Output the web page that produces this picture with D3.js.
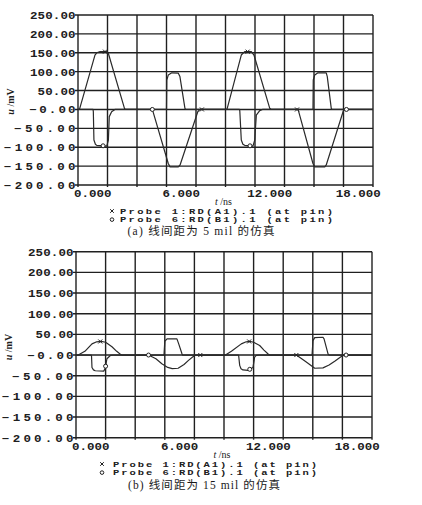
<!DOCTYPE html>
<html>
<head>
<meta charset="utf-8">
<script src="https://cdn.jsdelivr.net/npm/d3@7"></script>
<style>
  body { margin: 0; background: #fff; }
  svg { display: block; }
</style>
</head>
<body>
<div id="vis"><svg></svg></div>
<script>
// axis values
var timeDomain = [-1, 19];
var timeTicks = [0, 6, 12, 18];
var voltTicks = [250, 200, 150, 100, 50, 0, -50, -100, -150, -200];

// (a) 5 mil spacing -- [t (ns), u (mV)]
var probe1A = [[-1,0],[-0.9,0],[0.15,144],[0.27,150],[0.5,153],[0.95,153],[1.06,148],[2.15,3],[2.2,0],
  [5.0,0],[5.02,78],[5.12,91],[5.36,97],[5.8,96],[5.91,87],[6.25,3],[6.3,0],
  [9.1,0],[10.07,144],[10.3,153],[10.75,153],[10.93,144],[12.0,3],[12.1,0],
  [14.93,0],[14.95,78],[15.05,91],[15.27,97],[15.83,97],[15.9,87],[16.17,3],[16.22,0],[19,0]];
var probe6A = [[-1,0],[0.02,0],[0.04,-6],[0.08,-81],[0.18,-92],[0.27,-95],[0.95,-97],[1.06,-81],[1.12,-19],[1.28,-6],[1.5,0],
  [4.04,0],[5.12,-143],[5.24,-152],[5.8,-152],[5.92,-147],[7.12,-6],[7.27,0],
  [9.95,0],[9.97,-4],[10.07,-81],[10.18,-92],[10.3,-95],[10.86,-97],[10.98,-81],[11.09,-15],[11.32,-3],[11.5,0],
  [13.92,0],[14.93,-143],[15.05,-152],[15.73,-152],[15.83,-147],[16.97,-6],[17.08,0],[19,0]];
var marks1A = [0.83, 7.4, 10.5, 13.85];
var marks6A = [0.7, 4.04, 10.66, 17.2];

// (b) 15 mil spacing
var probe1B = [[-1,0],[-0.85,0],[-0.4,9],[0.08,27],[0.4,32],[0.7,33],[1.0,31],[1.43,20],[1.75,9],[2.0,2],[2.1,0],
  [4.93,0],[4.95,3],[5.0,33],[5.15,39],[5.82,39],[5.94,27],[6.16,3],[6.2,0],
  [9.1,0],[9.5,9],[10.17,27],[10.5,32],[10.74,33],[11.0,31],[11.41,23],[11.7,12],[12.0,2],[12.1,0],
  [14.95,0],[15.01,35],[15.13,42],[15.69,43],[15.76,39],[16.03,3],[16.1,0],[19,0]];
var probe6B = [[-1,0],[0.03,0],[0.05,-3],[0.08,-30],[0.18,-36],[0.3,-38],[0.87,-39],[0.97,-33],[1.09,-9],[1.32,-1],[1.5,0],
  [3.9,0],[4.4,-9],[4.8,-21],[5.2,-30],[5.5,-33],[5.9,-32],[6.3,-23],[6.6,-13],[6.9,-4],[7.1,0],
  [9.97,0],[9.99,-1],[10.06,-25],[10.15,-33],[10.28,-36],[10.62,-37],[10.96,-30],[11.07,-5],[11.18,-1],[11.35,0],
  [13.89,0],[14.56,-17],[15.13,-32],[15.69,-31],[16.1,-24],[16.48,-15],[16.9,-4],[17.16,0],[19,0]];
var marks1B = [0.64, 7.4, 10.7, 13.89];
var marks6B = [1.0, 3.9, 10.74, 17.25];

var legendNames = ["Probe 1:RD(A1).1 (at pin)", "Probe 6:RD(B1).1 (at pin)"];
var captions = ["(a) 线间距为 5 mil 的仿真", "(b) 线间距为 15 mil 的仿真"];

var ink = "#202020";
var monoFont = "'Liberation Mono', 'DejaVu Sans Mono', monospace";
var serifFont = "'Liberation Serif', 'DejaVu Serif', serif";
var wide = 1.25;   // plotter font is wide, stretch it sideways

var svg = d3.select("#vis").select("svg")
    .attr("width", 422)
    .attr("height", 505);

svg.append("rect").attr("width", 422).attr("height", 505).attr("fill", "#fff");

function fmtVolt(d) {
  if (d === 0) return "\u22120.00";
  return d3.format(".2f")(d);
}

// value on a series at time t, to seat the markers on the trace
function valueAt(series, t) {
  var i = d3.bisector(function(d) { return d[0]; }).left(series, t);
  if (i <= 0) return series[0][1];
  if (i >= series.length) return series[series.length - 1][1];
  var a = series[i - 1], b = series[i];
  return a[1] + (b[1] - a[1]) * (t - a[0]) / (b[0] - a[0]);
}

function drawPanel(p) {
  var x = d3.scaleLinear().domain(timeDomain).range([p.left, p.right]);
  var y = d3.scaleLinear().domain([-200, 250]).range([p.bottom, p.top]);
  var g = svg.append("g");

  // grid (10 x divisions, one per 2 ns)
  g.selectAll(".hgrid").data(voltTicks).enter().append("line")
      .attr("x1", p.left - 3).attr("x2", p.right)
      .attr("y1", function(d) { return y(d); })
      .attr("y2", function(d) { return y(d); })
      .attr("stroke", ink).attr("stroke-width", 1.4);
  g.selectAll(".vgrid").data(d3.range(timeDomain[0], timeDomain[1] + 0.01, 2)).enter().append("line")
      .attr("x1", function(d) { return x(d); })
      .attr("x2", function(d) { return x(d); })
      .attr("y1", p.top).attr("y2", p.bottom + 2)
      .attr("stroke", ink).attr("stroke-width", 1.4);

  // y labels (negatives are spaced wider on the original plot)
  g.selectAll(".ylab").data(voltTicks).enter().append("text")
      .attr("transform", function(d) {
        return "translate(" + (p.left - 2.5) + "," + y(d) + ") scale(" + wide + ",1)";
      })
      .attr("dy", "0.4em")
      .attr("text-anchor", "end")
      .attr("font-family", monoFont).attr("font-weight", "bold").attr("font-size", 10)
      .attr("fill", ink)
      .attr("textLength", function(d) {
        var n = fmtVolt(d).length;
        return (d < 0 ? n * 10.2 : (d === 0 ? n * 9.2 : n * 7.6)) / wide;
      })
      .attr("lengthAdjust", "spacing")
      .text(fmtVolt);

  // x labels
  g.selectAll(".xlab").data(timeTicks).enter().append("text")
      .attr("transform", function(d) {
        return "translate(" + x(d) + "," + (p.bottom + 12) + ") scale(" + wide + ",1)";
      })
      .attr("text-anchor", "middle")
      .attr("font-family", monoFont).attr("font-weight", "bold").attr("font-size", 10)
      .attr("fill", ink)
      .text(function(d) { return d3.format(".3f")(d); });

  // axis titles
  var xt = g.append("text")
      .attr("x", (p.left + p.right) / 2 - 2)
      .attr("y", p.bottom + 20)
      .attr("text-anchor", "middle")
      .attr("font-family", serifFont).attr("font-size", 10).attr("fill", ink);
  xt.append("tspan").attr("font-style", "italic").text("t");
  xt.append("tspan").text(" /ns");

  var yt = g.append("text")
      .attr("transform", "translate(" + (p.left - 64) + "," + (y(0) - 8) + ") rotate(-90)")
      .attr("text-anchor", "middle")
      .attr("font-family", serifFont).attr("font-size", 10).attr("font-weight", "bold").attr("fill", ink);
  yt.append("tspan").attr("font-style", "italic").text("u");
  yt.append("tspan").text(" /mV");

  // traces
  var line = d3.line()
      .x(function(d) { return x(d[0]); })
      .y(function(d) { return y(d[1]); });

  var traces = [
    {values: p.probe1, marks: p.marks1, sym: "x"},
    {values: p.probe6, marks: p.marks6, sym: "o"}
  ];

  traces.forEach(function(tr) {
    g.append("path")
        .attr("d", line(tr.values))
        .attr("fill", "none")
        .attr("stroke", "#2a2a2a")
        .attr("stroke-width", 1.2)
        .attr("stroke-linejoin", "round");

    var m = g.selectAll(null).data(tr.marks).enter().append("g")
        .attr("transform", function(t) {
          return "translate(" + x(t) + "," + y(valueAt(tr.values, t)) + ")";
        });
    if (tr.sym === "x") {
      m.append("path").attr("d", "M-2,-2L2,2M-2,2L2,-2")
          .attr("stroke", ink).attr("stroke-width", 1);
    } else {
      m.append("circle").attr("r", 2)
          .attr("fill", "#fff").attr("stroke", ink).attr("stroke-width", 1);
    }
  });

  // legend
  legendNames.forEach(function(name, i) {
    var ly = p.legendY + i * 8.6;
    if (i === 0) {
      g.append("path")
          .attr("d", "M-1.8,-1.8L1.8,1.8M-1.8,1.8L1.8,-1.8")
          .attr("transform", "translate(" + p.legendX + "," + (ly - 2.5) + ")")
          .attr("stroke", ink).attr("stroke-width", 1);
    } else {
      g.append("circle")
          .attr("cx", p.legendX).attr("cy", ly - 2.5).attr("r", 1.8)
          .attr("fill", "none").attr("stroke", ink).attr("stroke-width", 1);
    }
    g.append("text")
        .attr("transform", "translate(" + (p.legendX + p.legendGap) + "," + ly + ") scale(1.4,1)")
        .attr("font-family", monoFont).attr("font-weight", "bold").attr("font-size", 7.5)
        .attr("fill", ink)
        .attr("textLength", p.legendLen / 1.4)
        .attr("lengthAdjust", "spacing")
        .text(name);
  });

  // caption
  g.append("text")
      .attr("x", p.captionX)
      .attr("y", p.captionY)
      .attr("text-anchor", "middle")
      .attr("font-family", "'Liberation Serif', 'Noto Sans CJK SC', serif")
      .attr("font-size", 11.5)
      .attr("fill", "#1a1a1a")
      .attr("textLength", p.captionLen)
      .attr("lengthAdjust", "spacing")
      .text(p.caption);
}

drawPanel({
  probe1: probe1A, probe6: probe6A, marks1: marks1A, marks6: marks6A,
  left: 78, right: 373, top: 15, bottom: 185,
  legendX: 112, legendGap: 8, legendY: 213.5, legendLen: 213,
  caption: captions[0], captionX: 201, captionY: 235, captionLen: 147
});

drawPanel({
  probe1: probe1B, probe6: probe6B, marks1: marks1B, marks6: marks6B,
  left: 76, right: 372, top: 251.7, bottom: 437.7,
  legendX: 102, legendGap: 11, legendY: 466.5, legendLen: 204,
  caption: captions[1], captionX: 204, captionY: 489, captionLen: 152
});
</script>
</body>
</html>
